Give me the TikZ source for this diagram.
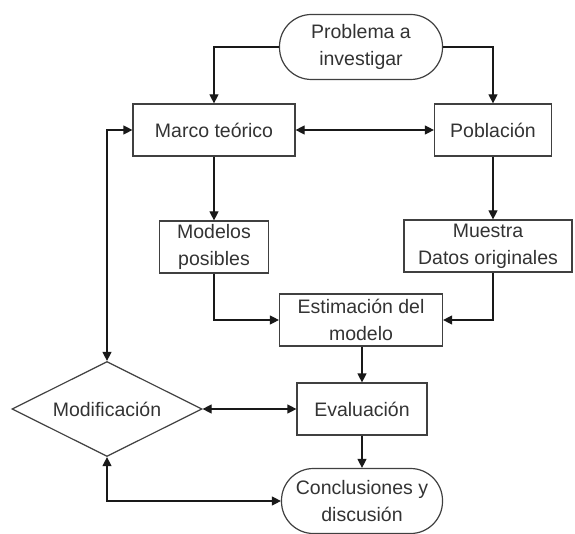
\documentclass[tikz,border=0pt]{standalone}
\usepackage{fontspec}
\setmainfont{Liberation Sans}
\usetikzlibrary{arrows.meta,shapes.geometric}
\begin{document}
\begin{tikzpicture}[x=1pt,y=-1pt,
  base/.style={draw=black!75,line width=1.2pt,align=center,inner sep=0pt,
    text=black!80,font=\fontsize{19.5}{27}\selectfont},
  box/.style={base,rectangle,minimum width=#1,minimum height=52pt},
  term/.style={base,rectangle,rounded corners=32pt,minimum width=#1,minimum height=65pt},
  decision/.style={base,diamond,aspect=2,minimum width=190pt,minimum height=95pt},
  tip/.tip={Triangle[length=9pt,width=9pt]},
  conn/.style={line width=1.2pt,draw=black!90,-tip},
  both/.style={line width=1.2pt,draw=black!90,tip-tip}]
\useasboundingbox (0,0) rectangle (575,534);

% flowchart nodes
\node[term=163pt] (problema) at (361,47) {Problema a\\investigar};
\node[box=162pt] (marco) at (214,130) {Marco teórico};
\node[box=117pt] (poblacion) at (493,130) {Población};
\node[box=109pt] (modelos) at (214,247) {Modelos\\posibles};
\node[box=168pt] (muestra) at (488,246) {Muestra\\Datos originales};
\node[box=163pt] (estim) at (361,320) {Estimación del\\modelo};
\node[box=130pt] (eval) at (362,409) {Evaluación};
\node[decision] (modif) at (107,409) {Modificación};
\node[term=161pt] (concl) at (362,501) {Conclusiones y\\discusión};

% connectors
\draw[conn] (problema.west) -| (marco.north);
\draw[conn] (problema.east) -| (poblacion.north);
\draw[both] (marco.east) -- (poblacion.west);
\draw[conn] (marco.south) -- (modelos.north);
\draw[conn] (poblacion.south) -- (poblacion.south |- muestra.north);
\draw[conn] (modelos.south) |- (estim.west);
\draw[conn] (poblacion.south |- muestra.south) |- (estim.east);
\draw[conn] (estim.south -| eval.north) -- (eval.north);
\draw[both] (modif.east) -- (eval.west);
\draw[conn] (eval.south) -- (concl.north);
\draw[both] (modif.north) |- (marco.west);
\draw[both] (modif.south) |- (concl.west);
\end{tikzpicture}
\end{document}
